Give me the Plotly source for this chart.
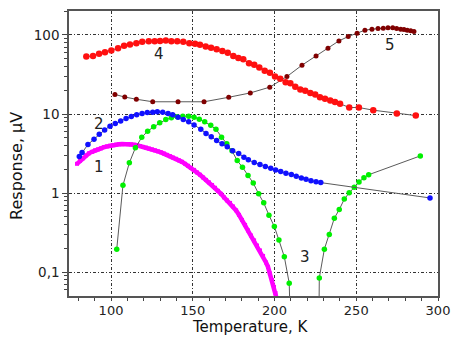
import numpy as np
import plotly.graph_objects as go

# ---- curve 1 (magenta, dense scan) ----
t1 = [79.2, 81.0, 82.9, 84.7, 86.5, 88.4, 90.2, 92.0, 93.9, 95.7, 97.6, 99.4, 101.2, 103.1,
      104.9, 106.7, 108.6, 110.4, 112.2, 114.1, 115.9, 117.7, 119.6, 121.4, 123.2, 125.1,
      126.9, 128.7, 130.6, 132.4, 134.2, 136.1, 137.9, 139.8, 141.6, 143.4, 145.3, 147.1,
      148.9, 150.8, 152.6, 154.4, 156.3, 158.1, 159.9, 161.8, 163.6, 165.4, 167.3, 169.1,
      170.9, 172.8, 174.6, 176.5, 178.3, 180.1, 182.0, 183.8, 185.6, 187.5, 189.3, 191.1,
      193.0, 194.8, 196.0, 197.2, 198.5, 199.7, 200.6, 201.5]
r1 = [2.35, 2.56, 2.76, 3.01, 3.19, 3.33, 3.48, 3.58, 3.69, 3.82, 3.91, 3.99, 4.05, 4.11,
      4.15, 4.17, 4.18, 4.17, 4.15, 4.09, 4.03, 3.95, 3.85, 3.77, 3.67, 3.58,
      3.48, 3.38, 3.28, 3.17, 3.05, 2.94, 2.82, 2.72, 2.60, 2.49, 2.35, 2.22,
      2.09, 1.97, 1.83, 1.71, 1.58, 1.47, 1.37, 1.27, 1.17, 1.07, 0.98, 0.885,
      0.811, 0.753, 0.680, 0.606, 0.531, 0.459, 0.397, 0.338, 0.292, 0.253, 0.218, 0.189,
      0.161, 0.133, 0.117, 0.0966, 0.0799, 0.0652, 0.0547, 0.045]

# ---- curve 2 (blue) ----
t2 = [80.6, 82.3, 85.9, 89.6, 92.8, 96.1, 99.4, 102.6, 105.9, 109.2, 112.4, 115.7, 119.0,
      122.2, 125.5, 128.3, 131.6, 134.9, 137.7, 141.0, 144.2, 147.5, 150.8, 154.9, 158.1,
      161.3, 164.6, 167.9, 171.1, 174.4, 178.1, 181.3, 184.0, 187.6, 191.1, 194.4, 197.7,
      200.7, 203.8, 207.0, 210.3, 213.3, 216.4, 219.3, 222.3, 225.4, 228.3, 295.1]
r2 = [2.90, 3.26, 4.12, 4.82, 5.57, 6.31, 7.03, 7.59, 8.20, 8.77, 9.30, 9.77, 10.15,
      10.45, 10.57, 10.66, 10.57, 10.15, 9.77, 9.14, 8.52, 7.97, 7.30, 6.41, 5.70,
      5.15, 4.62, 4.20, 3.85, 3.43, 3.17, 2.85, 2.64, 2.44, 2.30, 2.17, 2.07,
      1.97, 1.88, 1.79, 1.72, 1.64, 1.56, 1.50, 1.44, 1.39, 1.36, 0.87]

# ---- curve 3 (green), passes through zero twice ----
t3 = [103.5, 107.3, 111.2, 114.9, 118.8, 122.4, 126.1, 129.8, 133.5, 136.9, 140.5, 143.9,
      147.5, 150.8, 154.0, 157.3, 161.0, 164.2, 167.6, 170.8, 174.0, 177.2, 180.4, 183.8,
      187.0, 190.3, 193.4, 196.6, 199.9, 202.7, 206.0, 209.0, 210.1,
      227.0, 227.4, 230.5, 233.5, 236.6, 239.6, 242.7, 245.7, 248.8, 251.7, 254.7, 257.6, 289.2]
r3 = [0.196, 1.255, 2.42, 3.74, 5.08, 6.08, 6.89, 7.74, 8.52, 8.96, 9.22, 9.40,
      9.40, 9.14, 8.62, 7.97, 7.20, 6.41, 5.08, 4.20, 3.43, 2.58, 2.13, 1.67,
      1.34, 0.98, 0.754, 0.527, 0.378, 0.255, 0.157, 0.0728, 0.01,
      0.01, 0.0849, 0.196, 0.300, 0.483, 0.621, 0.842, 1.01, 1.19, 1.38, 1.57, 1.71, 2.96]

# ---- curve 4 (red) ----
t4 = [84.9, 89.0, 92.7, 96.3, 100.2, 104.3, 108.0, 111.6, 115.5, 119.1, 123.1, 126.7, 130.0,
      133.5, 136.9, 140.5, 144.2, 147.9, 151.4, 154.4, 157.9, 161.2, 164.6, 168.1, 171.4,
      174.8, 177.9, 180.9, 184.4, 187.6, 190.7, 194.0, 197.2, 200.3, 203.5, 206.8, 209.7,
      212.7, 215.8, 218.8, 221.9, 224.9, 227.8, 230.9, 234.1, 237.0, 240.1, 245.7, 251.6,
      260.4, 274.8, 286.4]
r4 = [53.3, 54.4, 57.7, 60.6, 63.5, 68.1, 72.8, 75.6, 78.7, 81.8, 83.5, 83.5, 84.2,
      85.0, 83.5, 83.5, 81.8, 78.7, 77.2, 75.0, 71.3, 68.7, 66.1, 62.9, 59.4,
      54.4, 51.3, 49.4, 44.0, 41.9, 38.7, 35.2, 33.2, 29.8, 27.9, 25.3, 24.6,
      22.1, 20.4, 19.7, 18.5, 17.7, 16.3, 15.6, 14.8, 14.2, 13.5, 12.1, 12.1,
      11.2, 10.15, 9.57]

# ---- curve 5 (dark red) ----
t5 = [102.4, 108.4, 115.5, 125.5, 141.0, 156.9, 172.0, 185.2, 197.1, 207.6, 216.8, 225.4,
      232.7, 239.4, 245.1, 250.5, 255.3, 259.6, 263.3, 266.5, 269.4, 272.3, 274.7, 277.2,
      279.2, 281.2, 283.3, 285.3]
r5 = [17.7, 16.4, 15.4, 14.3, 14.3, 14.3, 16.3, 18.5, 21.9, 29.8, 41.5, 54.4,
      68.1, 84.2, 95.5, 105.4, 115.0, 118.4, 120.5, 121.9, 123.0, 123.0, 120.5, 118.4,
      117.0, 115.0, 112.7, 110.4]

# curve labels: text, T, response
lab_text = ["1", "2", "3", "4", "5"]
lab_t = [92.6, 92.8, 218.6, 129.6, 270.6]
lab_r = [2.17, 7.54, 0.155, 58.0, 75.4]

x_ticks = [100, 150, 200, 250, 300]
y_ticks = [0.1, 1, 10, 100]
y_ticktext = ["0,1", "1", "10", "100"]
y_minor = [m * 10.0 ** e for e in (-2, -1, 0, 1) for m in range(2, 10)] + [200]

FONT = "DejaVu Sans"
LINE = "#5a5a5a"

fig = go.Figure()

fig.add_trace(go.Scatter(x=t1, y=r1, mode="lines+markers",
                         line=dict(color="#ff00ff", width=4.5),
                         marker=dict(color="#ff00ff", size=4, symbol="square")))
fig.add_trace(go.Scatter(x=t3, y=r3, mode="lines+markers",
                         line=dict(color=LINE, width=1),
                         marker=dict(color="#00f000", size=5.5)))
fig.add_trace(go.Scatter(x=t2, y=r2, mode="lines+markers",
                         line=dict(color=LINE, width=1),
                         marker=dict(color="#1010ff", size=5.5)))
fig.add_trace(go.Scatter(x=t5, y=r5, mode="lines+markers",
                         line=dict(color=LINE, width=1),
                         marker=dict(color="#800000", size=5)))
fig.add_trace(go.Scatter(x=t4, y=r4, mode="lines+markers",
                         line=dict(color=LINE, width=1),
                         marker=dict(color="#ff1010", size=6.5)))

for txt, tx, ry in zip(lab_text, lab_t, lab_r):
    fig.add_annotation(x=tx, y=np.log10(ry), text=txt, showarrow=False,
                       font=dict(family=FONT, size=15, color="#222"))

# axis titles
fig.add_annotation(xref="paper", yref="paper", x=0.492, y=-0.1439, text="Temperature, K",
                   showarrow=False, xanchor="center", yanchor="bottom", borderpad=0,
                   font=dict(family=FONT, size=15, color="#111"))
fig.add_annotation(xref="paper", yref="paper", x=-0.142, y=0.455, text="Response, μV",
                   showarrow=False, textangle=-90, xanchor="center", yanchor="middle",
                   font=dict(family=FONT, size=16, color="#111"))

grid = dict(showgrid=True, gridcolor="#333", gridwidth=1, griddash="3px,2px,1px,2px")

fig.update_xaxes(range=[74.3, 300], tickvals=x_ticks, ticks="outside", ticklen=2,
                 tickcolor="#444", showline=True, linecolor="#555", linewidth=1.5,
                 mirror=True, zeroline=False, automargin=False,
                 minor=dict(dtick=10, tick0=0, ticks="outside", ticklen=3, tickcolor="#444"),
                 tickfont=dict(family=FONT, size=13, color="#222"), **grid)
fig.update_yaxes(type="log", range=[-1.30, 2.303], tickvals=y_ticks, ticktext=y_ticktext,
                 ticks="outside", ticklen=5, tickcolor="#444", showline=True,
                 linecolor="#555", linewidth=1.5, mirror=True, zeroline=False, automargin=False,
                 minor=dict(tickvals=y_minor, ticks="outside", ticklen=3, tickcolor="#444"),
                 tickfont=dict(family=FONT, size=13.5, color="#222"), **grid)

fig.update_layout(width=453, height=337, margin=dict(l=69, r=15, t=11, b=41),
                  paper_bgcolor="white", plot_bgcolor="white", showlegend=False)

fig.write_html("out.html")
